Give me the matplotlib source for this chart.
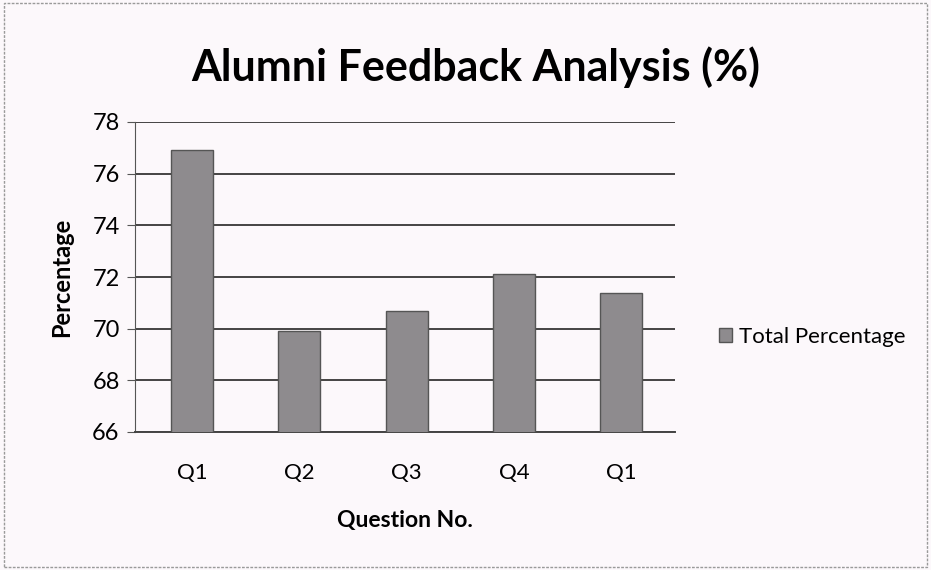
import matplotlib
matplotlib.use("Agg")
import matplotlib.pyplot as plt
from matplotlib.patches import Rectangle

categories = ["Q1", "Q2", "Q3", "Q4", "Q1"]
values = [76.9, 69.9, 70.7, 72.1, 71.4]
yticks = [66, 68, 70, 72, 74, 76, 78]
title = "Alumni Feedback Analysis (%)"
series_name = "Total Percentage"

plt.rcParams['font.family'] = ['Lato', 'DejaVu Sans']
bg = '#fcf8fb'
bar_color = '#8e8b8e'

fig = plt.figure(figsize=(9.31, 5.70), dpi=100, facecolor=bg)
ax = fig.add_axes([135/931, 1-432/570, (675-135)/931, (432-122)/570])
ax.set_facecolor(bg)

x = list(range(len(categories)))
ax.bar(x, values, width=0.39, bottom=0, color=bar_color, edgecolor='#555555',
       linewidth=1.0, zorder=3, label=series_name)
ax.set_ylim(66, 78)
ax.set_xlim(-0.53, len(categories) - 0.5)
ax.set_yticks(yticks)
ax.set_xticks(x)
ax.set_xticklabels(categories)
ax.yaxis.grid(True, color='#444444', linewidth=1.4, zorder=1)
ax.set_axisbelow(True)
for s in ['top', 'right']:
    ax.spines[s].set_visible(False)
ax.spines['left'].set_color('#555555')
ax.spines['bottom'].set_color('#444444')
ax.spines['bottom'].set_linewidth(1.4)
ax.tick_params(axis='y', labelsize=17, length=6, color='#555555', pad=5)
ax.tick_params(axis='x', labelsize=16, length=0, pad=22)

ax.set_ylabel("Percentage", fontsize=17, fontweight='bold', labelpad=14)
ax.set_xlabel("Question No.", fontsize=16.5, fontweight='bold', labelpad=20)
fig.text(476/931, 1-67/570, title, fontsize=31, fontweight='bold',
         ha='center', va='center')

leg = fig.legend(loc='center left', bbox_to_anchor=(699/931, 1-337/570),
                 frameon=False, fontsize=16, handlelength=0.6, handleheight=0.6,
                 handletextpad=0.3)

# chart border
fig.patches.append(Rectangle((0.004, 0.006), 0.992, 0.988, transform=fig.transFigure,
                             fill=False, edgecolor='#9a9a9a', linewidth=1.0,
                             linestyle=(0, (2, 1))))

fig.savefig("out.png", dpi=100, facecolor=bg)
